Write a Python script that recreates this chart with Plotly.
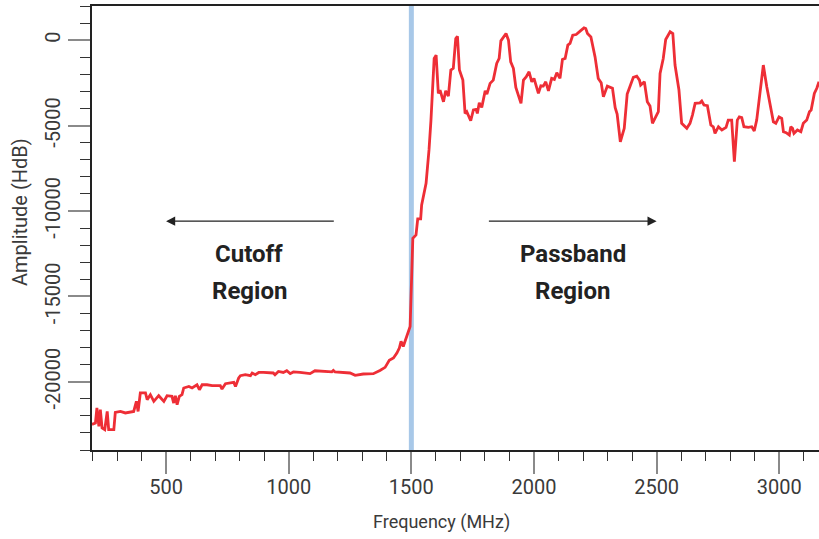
import plotly.graph_objects as go

# Frequency (MHz) and amplitude (HdB)
freq_mhz = [198, 212, 218, 226, 232, 239, 250, 260, 266, 287, 293, 314, 334, 368, 379, 386, 395, 416, 423, 436,
            450, 470, 491, 504, 524, 531, 538, 545, 554, 565, 572, 593, 606, 626, 636, 647, 667, 688, 721, 728,
            742, 776, 783, 796, 803, 823, 844, 851, 864, 878, 897, 937, 944, 958, 978, 992, 1006, 1019, 1046, 1087,
            1107, 1141, 1176, 1182, 1189, 1250, 1271, 1304, 1345, 1372, 1393, 1410, 1427, 1441, 1451, 1458, 1467, 1481, 1492, 1495,
            1506, 1519, 1526, 1538, 1542, 1560, 1572, 1580, 1593, 1601, 1610, 1617, 1631, 1640, 1651, 1661, 1671, 1681, 1688, 1696,
            1710, 1719, 1726, 1732, 1742, 1753, 1764, 1769, 1777, 1787, 1801, 1808, 1821, 1834, 1848, 1858, 1865, 1886, 1896, 1905,
            1916, 1926, 1936, 1947, 1957, 1968, 1980, 1991, 2000, 2018, 2028, 2038, 2048, 2059, 2072, 2083, 2093, 2106, 2116, 2127,
            2138, 2147, 2158, 2172, 2188, 2204, 2211, 2218, 2232, 2249, 2262, 2274, 2283, 2299, 2320, 2331, 2339, 2352, 2368, 2380,
            2392, 2405, 2419, 2430, 2435, 2450, 2462, 2473, 2483, 2494, 2507, 2514, 2527, 2537, 2555, 2566, 2575, 2591, 2602, 2623,
            2636, 2646, 2657, 2677, 2684, 2693, 2707, 2721, 2731, 2738, 2752, 2766, 2783, 2792, 2806, 2817, 2829, 2837, 2847, 2856,
            2874, 2888, 2898, 2908, 2922, 2935, 2949, 2976, 2986, 2999, 3010, 3017, 3028, 3041, 3047, 3054, 3060, 3074, 3088, 3098,
            3112, 3123, 3130, 3143, 3153, 3162]
amplitude_hdb = [-22500, -22420, -21540, -22610, -21640, -22710, -22810, -21740, -22810, -22810, -21800, -21740, -21830, -21740, -21150, -21740, -20660, -20660, -21050, -20760,
                 -21150, -20820, -21150, -20820, -20860, -21250, -20820, -21350, -20860, -20760, -20370, -20280, -20370, -20180, -20470, -20180, -20180, -20230, -20230, -20430,
                 -20120, -20040, -20280, -19780, -19650, -19590, -19650, -19490, -19590, -19460, -19460, -19490, -19590, -19400, -19460, -19360, -19530, -19430, -19460, -19530,
                 -19360, -19400, -19420, -19340, -19430, -19490, -19630, -19550, -19530, -19340, -19160, -18750, -18610, -18320, -18030, -17640, -17940, -17350, -16960, -16770,
                 -11600, -11400, -10470, -10470, -9650, -8380, -6430, -4680, -1070, -880, -3120, -2920, -3610, -2970, -3270, -1750, -1650, 100, 230, -1750,
                 -2340, -4290, -4190, -4390, -4720, -4090, -4050, -4290, -3670, -3940, -2970, -3160, -2530, -2340, -1360, -1070, -40, 390, 0, -1270,
                 -1650, -2770, -3220, -3700, -2340, -2150, -1850, -2440, -2240, -3120, -2670, -2690, -2440, -2970, -2240, -2300, -1910, -2240, -1130, -1070,
                 -290, -190, 290, 330, 530, 720, 680, 390, 190, -980, -2240, -2500, -3320, -2690, -2820, -3950, -4330, -5950, -5160, -3160,
                 -2690, -2180, -2110, -2340, -2630, -2440, -3610, -3860, -4870, -4580, -4190, -1950, -1070, 40, 490, 390, -1460, -2920, -4870, -5160,
                 -4870, -4390, -3700, -3670, -3570, -3800, -3840, -4970, -5070, -5460, -5070, -5260, -5110, -4680, -4680, -7120, -4680, -4490, -4540, -5070,
                 -5110, -5070, -5320, -4680, -3120, -1460, -2730, -4780, -4870, -4490, -4580, -5360, -5420, -5560, -5070, -5160, -5460, -5260, -5360, -4870,
                 -4680, -4190, -4090, -3120, -2820, -2440]

x_range = [198, 3162]
y_range = [-24000, 2000]
x_tick_vals = [500, 1000, 1500, 2000, 2500, 3000]
x_tick_text = ["500", "1000", "1500", "2000", "2500", "3000"]
y_tick_vals = [0, -5000, -10000, -15000, -20000]
y_tick_text = ["0", "-5000", "-10000", "-15000", "-20000"]
x_minor_dtick = 100
y_minor_dtick = 1000
boundary_mhz = 1500

FONT = "Noto Sans Condensed, Liberation Sans Narrow, Roboto, sans-serif"
TXT = "#3a3a3a"

fig = go.Figure()
fig.add_trace(go.Scatter(
    x=freq_mhz, y=amplitude_hdb, mode="lines",
    line=dict(color="#ee2e36", width=2.8), hoverinfo="skip", showlegend=False,
))

fig.add_shape(type="line", xref="x", yref="paper", x0=boundary_mhz, x1=boundary_mhz, y0=0, y1=1,
              line=dict(color="#a8c8e8", width=5), layer="below")

# arrows
fig.add_annotation(x=500, y=-10600, ax=1190, ay=-10600, xref="x", yref="y", axref="x", ayref="y",
                   text="", showarrow=True, arrowhead=2, arrowsize=1.3, arrowwidth=1.4, arrowcolor="#222222")
fig.add_annotation(x=2500, y=-10600, ax=1810, ay=-10600, xref="x", yref="y", axref="x", ayref="y",
                   text="", showarrow=True, arrowhead=2, arrowsize=1.3, arrowwidth=1.4, arrowcolor="#222222")

labels = [("Cutoff", 840, -12520), ("Region", 840, -14660), ("Passband", 2158, -12520), ("Region", 2158, -14660)]
for t, xv, yv in labels:
    fig.add_annotation(x=xv, y=yv, xref="x", yref="y", text=f"<b>{t}</b>", showarrow=False,
                       font=dict(family=FONT, size=24, color="#222222"))

# axis titles
fig.add_annotation(x=0.4807, y=-0.162, xref="paper", yref="paper", text="Frequency (MHz)", showarrow=False,
                   xanchor="center", yanchor="middle", font=dict(family=FONT, size=18, color=TXT))
fig.add_annotation(x=-0.099, y=0.536, xref="paper", yref="paper", text="Amplitude (HdB)", showarrow=False,
                   textangle=-90, xanchor="center", yanchor="middle", font=dict(family=FONT, size=20, color=TXT))

fig.update_layout(
    width=819, height=539,
    margin=dict(l=92, r=0, t=6, b=89),
    paper_bgcolor="white", plot_bgcolor="white",
    font=dict(family=FONT, size=20, color=TXT),
    showlegend=False,
)
fig.update_xaxes(
    range=x_range, tickmode="array", tickvals=x_tick_vals, ticktext=x_tick_text,
    ticks="outside", ticklen=22, tickwidth=1.5, tickcolor="#8a8a8a", ticklabelstandoff=-4,
    minor=dict(tickmode="linear", dtick=x_minor_dtick, tick0=0, ticks="outside", ticklen=9, tickwidth=1.3,
               tickcolor="#333333", showgrid=False),
    showline=True, linecolor="#222222", linewidth=1.5, mirror=True, showgrid=False, zeroline=False,
    automargin=False, tickfont=dict(size=20, color=TXT),
)
fig.update_yaxes(
    range=y_range, tickmode="array", tickvals=y_tick_vals, ticktext=y_tick_text,
    ticks="outside", ticklen=22, tickwidth=1.5, tickcolor="#8a8a8a",
    minor=dict(tickmode="linear", dtick=y_minor_dtick, tick0=0, ticks="outside", ticklen=10, tickwidth=1.3,
               tickcolor="#333333", showgrid=False),
    showline=True, linecolor="#222222", linewidth=1.5, mirror=False, showgrid=False, zeroline=False,
    automargin=False, tickangle=-90, tickfont=dict(size=20, color=TXT),
)

fig.write_html("out.html", config={"displayModeBar": False},
               post_script="document.body.style.margin='0';document.body.style.overflow='hidden';")
